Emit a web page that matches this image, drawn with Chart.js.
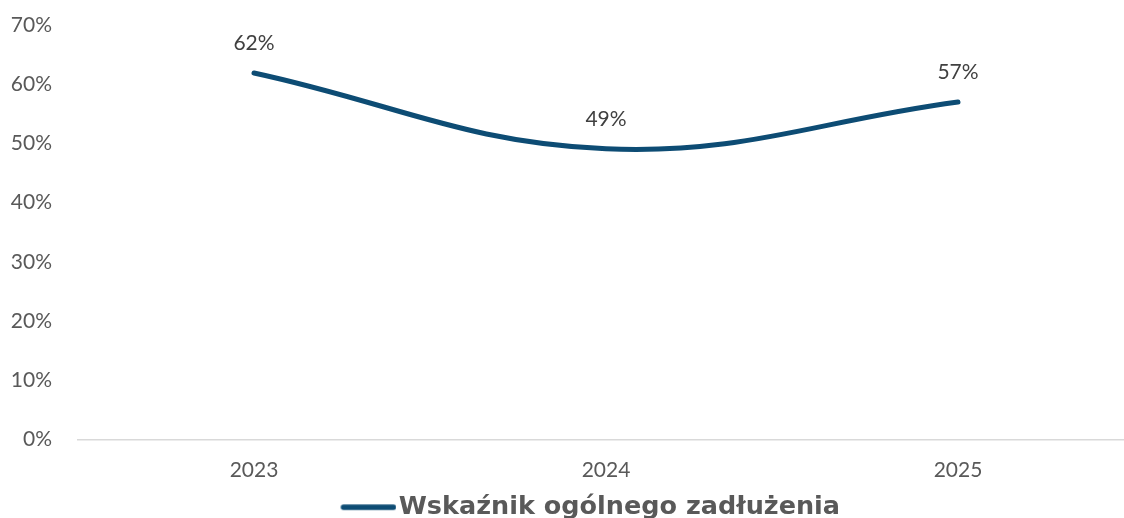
<!DOCTYPE html>
<html>
<head>
<meta charset="utf-8">
<script src="https://cdn.jsdelivr.net/npm/chart.js@4/dist/chart.umd.min.js"></script>
<style>
    html, body { margin: 0; padding: 0; background: #ffffff; overflow: hidden; }
    #wrap { position: relative; width: 1134px; height: 518px; }
</style>
</head>
<body>
<div id="wrap"><canvas id="myChart"></canvas></div>
<script>
    var years = ['2023', '2024', '2025'];
    var debtRatio = [61.9, 49.1, 57.0];
    var debtLabels = ['62%', '49%', '57%'];
    var seriesName = 'Wskaźnik ogólnego zadłużenia';

    var gray = '#595959';
    var lineColor = '#0d4c74';
    var fontFamily = "'Lato', 'Noto Sans', sans-serif";

    // legend marker: a thick line with round ends, pushed to the right edge
    var marker = document.createElement('canvas');
    marker.width = 65;
    marker.height = 8;
    var mctx = marker.getContext('2d');
    mctx.strokeStyle = lineColor;
    mctx.lineWidth = 5.5;
    mctx.lineCap = 'round';
    mctx.beginPath();
    mctx.moveTo(65 - 56 + 3, 4);
    mctx.lineTo(65 - 3, 4);
    mctx.stroke();

    // value labels above the points
    var pointLabels = {
        id: 'pointLabels',
        afterDatasetsDraw: function(chart) {
            var ctx = chart.ctx;
            var meta = chart.getDatasetMeta(0);
            ctx.save();
            ctx.font = '21px ' + fontFamily;
            ctx.fillStyle = '#404040';
            ctx.textAlign = 'center';
            ctx.textBaseline = 'middle';
            meta.data.forEach(function(pt, i) {
                ctx.fillText(debtLabels[i], pt.x, pt.y - 30);
            });
            ctx.restore();
        }
    };

    // nudge the legend a bit to the right
    var legendShift = {
        id: 'legendShift',
        afterLayout: function(chart) {
            chart.legend.left += 24;
            chart.legend.right += 24;
        }
    };

    const ctx = document.getElementById('myChart').getContext('2d');
    var myChart = new Chart(ctx, {
        type: 'line',
        data: {
            labels: years,
            datasets: [{
                label: seriesName,
                data: debtRatio,
                borderColor: lineColor,
                backgroundColor: lineColor,
                borderWidth: 5,
                borderCapStyle: 'round',
                tension: 0.4,
                pointRadius: 0,
                pointHoverRadius: 0
            }]
        },
        options: {
            responsive: true,
            maintainAspectRatio: false,
            animation: false,
            layout: { padding: { top: 25, left: 0, right: 0, bottom: -12 } },
            plugins: {
                tooltip: { enabled: false },
                legend: {
                    position: 'bottom',
                    labels: {
                        usePointStyle: true,
                        pointStyle: marker,
                        pointStyleWidth: 44,
                        color: gray,
                        padding: 2,
                        font: { family: "'DejaVu Sans', sans-serif", size: 25.5, weight: 'bold' },
                        generateLabels: function(chart) {
                            return [{
                                text: seriesName,
                                pointStyle: marker,
                                fontColor: gray,
                                lineWidth: 0,
                                datasetIndex: 0
                            }];
                        }
                    }
                }
            },
            scales: {
                x: {
                    offset: true,
                    grid: { display: false, drawTicks: false },
                    border: { display: true, color: '#d9d9d9', width: 1.5 },
                    ticks: {
                        color: gray,
                        padding: 18,
                        font: { family: fontFamily, size: 21 }
                    },
                    afterFit: function(scale) { scale.height = 53; }
                },
                y: {
                    min: 0,
                    max: 70,
                    grid: { display: false, drawTicks: false },
                    border: { display: false },
                    ticks: {
                        stepSize: 10,
                        color: gray,
                        padding: 26,
                        font: { family: fontFamily, size: 21 },
                        callback: function(v) { return v + '%'; }
                    },
                    afterFit: function(scale) {
                        scale.width = 78;
                        scale.paddingTop = 0;
                        scale.paddingBottom = 0;
                    }
                }
            }
        },
        plugins: [pointLabels, legendShift]
    });
</script>
</body>
</html>
